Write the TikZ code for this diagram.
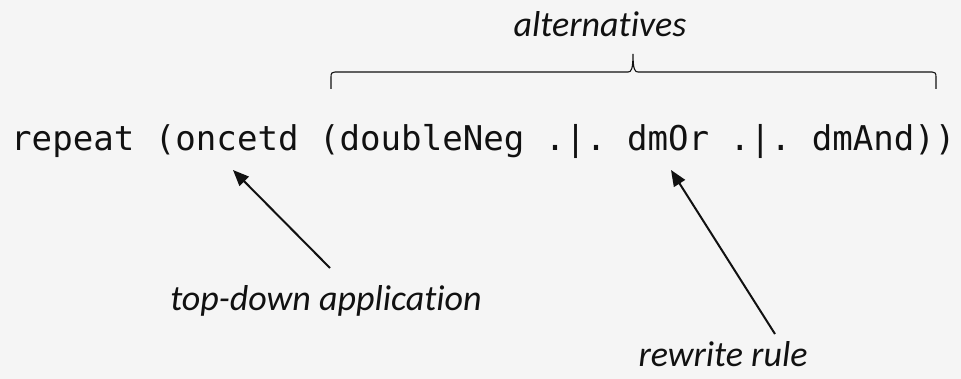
\documentclass[tikz,border=0pt]{standalone}
\usepackage{fontspec}
\setmainfont{Carlito}[Ligatures={NoCommon,NoDiscretionary}]
\setmonofont{DejaVu Sans Mono}
\usetikzlibrary{arrows.meta}
\definecolor{paper}{HTML}{F5F5F5}
\definecolor{ink}{HTML}{111111}
\begin{document}
\begin{tikzpicture}[x=1pt,y=-1pt,
  code/.style={font=\fontsize{34.1}{38}\selectfont\ttfamily, text=ink, inner sep=0pt},
  note/.style={font=\fontsize{36}{40}\selectfont\itshape, text=ink, inner sep=0pt},
  pointer/.style={draw=ink, line width=2pt, -{Triangle[length=16pt,width=13pt]}},
  bracket/.style={draw=ink, line width=1.1pt}]
  % canvas
  \fill[paper] (0,0) rectangle (961,379);
  \useasboundingbox (0,0) rectangle (961,379);

  % the expression
  \node[code, anchor=base west] (expr) at (11,151) {repeat (oncetd (doubleNeg .|. dmOr .|. dmAnd))};

  % labels
  \node[note, anchor=base] (alt) at (600,37) {alternatives};
  \node[note, anchor=base] (tda) at (326,311) {top-down application};
  \node[note, anchor=base] (rr)  at (723,366) {rewrite rule};

  % brace over the alternatives
  \coordinate (bl) at (331,89);
  \coordinate (bm) at (633,54);
  \coordinate (br) at (936,89);
  \draw[bracket] (bl) -- (331,77) .. controls (331,73) and (332,72) .. (335,72)
    -- (628,72) .. controls (631,72) and (633,70) .. (bm)
    .. controls (633,70) and (635,72) .. (638,72)
    -- (932,72) .. controls (935,72) and (936,73) .. (936,77) -- (br);

  % pointers
  \coordinate (tdaTail) at (330,268);
  \coordinate (tdaTip)  at (233,170);
  \coordinate (rrTail)  at (775,334);
  \coordinate (rrTip)   at (671,170);
  \draw[pointer] (tdaTail) -- (tdaTip);
  \draw[pointer] (rrTail) -- (rrTip);
\end{tikzpicture}
\end{document}
